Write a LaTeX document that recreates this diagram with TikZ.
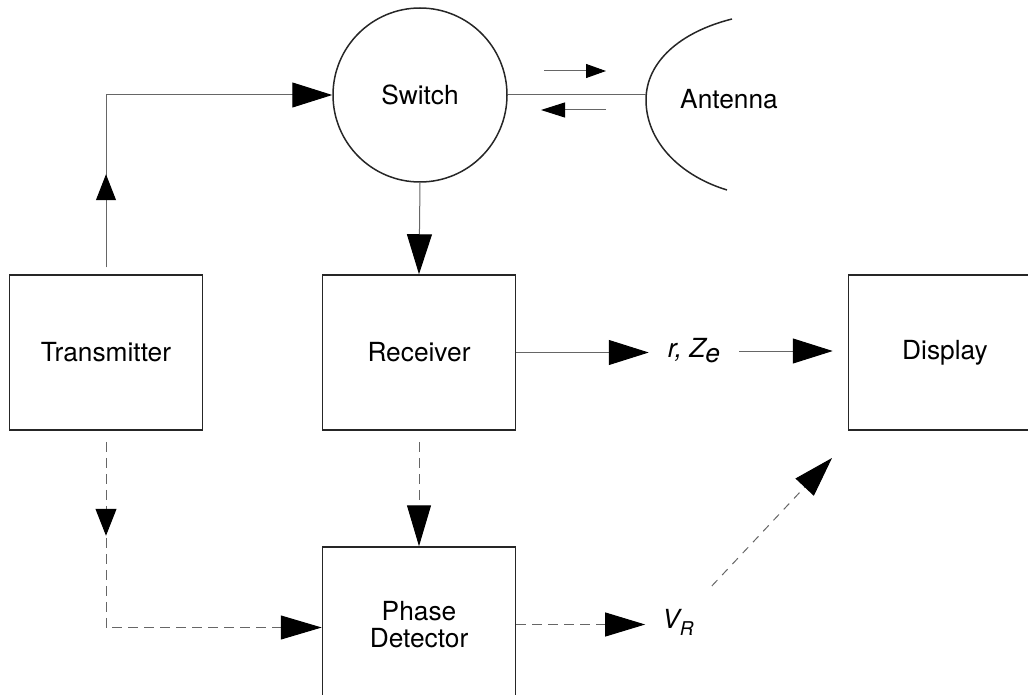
\documentclass[tikz,border=0pt]{standalone}
\usepackage{fontspec}
\setmainfont{TeX Gyre Heros}
\usetikzlibrary{arrows.meta,calc,decorations.markings}
\begin{document}
\begin{tikzpicture}[x=1pt,y=-1pt,
  font=\fontsize{26.3}{28}\selectfont,
  box/.style={draw=black!85, line width=1.5pt, minimum width=193pt, minimum height=155pt, inner sep=0pt, align=center},
  conn/.style={draw=black!60, line width=1pt},
  dconn/.style={conn, dash pattern=on 10pt off 6pt},
  big/.style={-{Triangle[length=40pt,width=25pt,black]}},
  upmid/.style={postaction={decorate}, decoration={markings, mark=at position 93pt with {\arrow{Triangle[length=26pt,width=20pt,black]}}}},
  downmid/.style={postaction={decorate}, decoration={markings, mark=at position 94pt with {\arrow{Triangle[length=27pt,width=21pt,black]}}}},
  lab/.style={inner ysep=0pt}
]
\useasboundingbox (0,0) rectangle (1028,695);

% blocks
\node[box] (tx) at (106,352.5) {Transmitter};
\node[box] (rx) at (419,352.5) {Receiver};
\node[box] (disp) at (945,352.5) {Display};
\node[box] (pd) at (419,624.5) {Phase\\[-1pt]Detector};
\node[circle, draw=black!85, line width=1.5pt, minimum size=174pt, inner sep=0pt] (sw) at (420,95) {Switch};

% antenna
\coordinate (antL) at (646,95);
\draw[black!85, line width=1.5pt] (732,19) .. controls (680,32) and (646,62) .. (646,100)
      .. controls (646,140) and (678,175) .. (727,190);
\node (antlab) at (729,99) {Antenna};

% labels
\node[lab, inner xsep=19pt] (rz) at (694,351) {\itshape r, Z\raisebox{-5pt}{e}};
\node[lab, inner xsep=17pt] (vr) at (678,622) {\itshape V\raisebox{-7pt}{\fontsize{19}{19}\selectfont R}};
\coordinate (dtip) at (832,458);

% solid connectors
\draw[conn, big, upmid] ($(tx.north)+(0,-7)$) |- (sw.west);
\draw[conn, big] (sw.south) -- (rx.north);
\draw[conn] (sw.east) -- (antL);
\coordinate (a1s) at (544,71);
\coordinate (a1e) at (606,71);
\coordinate (a2s) at (606,110);
\coordinate (a2e) at (541,110);
\draw[conn, -{Triangle[length=20pt,width=14pt,black]}] (a1s) -- (a1e);
\draw[conn, -{Triangle[length=24pt,width=15pt,black]}] (a2s) -- (a2e);
\draw[conn, big] (rx.east) -- (rx.east -| rz.west);
\draw[conn, big, shorten >=15pt] (rz.east) -- (rz.east -| disp.west);

% dashed connectors
\draw[dconn, downmid, -{Triangle[length=41pt,width=24pt,black]}] ($(tx.south)+(0,11)$) |- ($(pd.west)+(0,3)$);
\draw[dconn, -{Triangle[length=41pt,width=24pt,black]}] ($(rx.south)+(0,11)$) -- (pd.north);
\draw[dconn, -{Triangle[length=40pt,width=24pt,black]}] (pd.east) -- (pd.east -| vr.west);
\draw[conn, dash pattern=on 8pt off 7pt, -{Triangle[length=40pt,width=25pt,black]}] ($(vr)!0.22!(dtip)$) -- (dtip);
\end{tikzpicture}
\end{document}
